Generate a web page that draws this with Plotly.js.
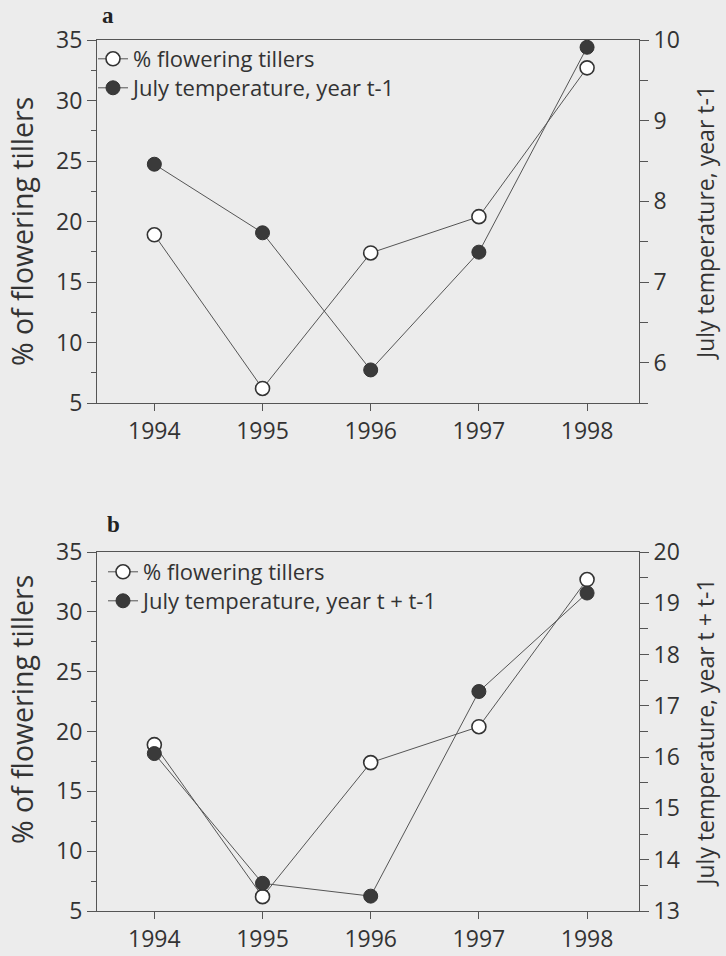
<!DOCTYPE html>
<html>
<head>
<meta charset="utf-8">
<script src="https://cdn.plot.ly/plotly-3.0.1.min.js"></script>
<style>
  html, body { margin: 0; padding: 0; background: #ececec; }
  #chart { width: 726px; height: 956px; }
</style>
</head>
<body>
<div id="chart"></div>
<script>
// ---- data ----
const years = [1994, 1995, 1996, 1997, 1998];
const floweringPct = [18.9, 6.2, 17.4, 20.4, 32.7];
const julyTempPrev = [8.46, 7.61, 5.91, 7.37, 9.91];        // year t-1
const julyTempSum = [16.07, 13.54, 13.29, 17.28, 19.2];      // year t + t-1
const yearTicks = [1994, 1995, 1996, 1997, 1998];
const legendNames = ['% flowering tillers', 'July temperature, year t-1', 'July temperature, year t + t-1'];
const leftTitle = '% of flowering tillers';
const rightTitles = ['July temperature, year t-1', 'July temperature, year t + t-1'];

const W = 726, H = 956;
const ink = '#333333';
const lineCol = '#555555';
const FONT = '"Open Sans", "Noto Sans", sans-serif';

const px = v => v / W;
const py = v => 1 - v / H;

const openMarker = { symbol: 'circle', size: 14, color: '#ffffff', line: { color: '#333333', width: 1.6 } };
const fillMarker = { symbol: 'circle', size: 14, color: '#3a3a3a', line: { color: '#333333', width: 1 } };
const lineStyle = { color: lineCol, width: 1 };

const traces = [
  { x: years, y: floweringPct, xaxis: 'x', yaxis: 'y', name: legendNames[0], mode: 'lines+markers',
    marker: openMarker, line: lineStyle, legend: 'legend', cliponaxis: false },
  { x: years, y: julyTempPrev, xaxis: 'x', yaxis: 'y2', name: legendNames[1], mode: 'lines+markers',
    marker: fillMarker, line: lineStyle, legend: 'legend2', cliponaxis: false },
  { x: years, y: floweringPct, xaxis: 'x2', yaxis: 'y3', name: legendNames[0], mode: 'lines+markers',
    marker: openMarker, line: lineStyle, legend: 'legend3', cliponaxis: false },
  { x: years, y: julyTempSum, xaxis: 'x2', yaxis: 'y4', name: legendNames[2], mode: 'lines+markers',
    marker: fillMarker, line: lineStyle, legend: 'legend4', cliponaxis: false }
];

const tickFont = { family: FONT, size: 23, color: ink };
const xDomain = [px(97), px(639)];
const aDomain = [py(403), py(40)];
const bDomain = [py(911), py(552)];

function xAxis(anchor, domain) {
  return {
    domain: xDomain, anchor: anchor, range: [1993.47, 1998.48],
    tickmode: 'array', tickvals: yearTicks, ticktext: yearTicks.map(String),
    ticks: 'outside', ticklen: 7, tickwidth: 1, tickcolor: lineCol,
    showline: true, linecolor: lineCol, linewidth: 1, mirror: true,
    showgrid: false, zeroline: false, tickfont: tickFont, automargin: false
  };
}
function leftY(anchor, domain) {
  return {
    domain: domain, anchor: anchor, range: [5, 35], dtick: 5, tick0: 0,
    ticks: 'outside', ticklen: 9, tickwidth: 1, tickcolor: lineCol,
    minor: { dtick: 2.5, ticks: 'outside', ticklen: 5, tickcolor: lineCol, showgrid: false },
    showline: true, linecolor: lineCol, linewidth: 1,
    showgrid: false, zeroline: false, tickfont: tickFont, automargin: false
  };
}
function rightY(anchor, overlay, domain, range, title) {
  return {
    domain: domain, anchor: anchor, overlaying: overlay, side: 'right', range: range, dtick: 1, tick0: 0,
    ticks: 'outside', ticklen: 9, tickwidth: 1, tickcolor: lineCol,
    minor: { dtick: 0.5, ticks: 'outside', ticklen: 8, tickcolor: lineCol, showgrid: false },
    showline: true, linecolor: lineCol, linewidth: 1,
    showgrid: false, zeroline: false, tickfont: tickFont, automargin: false,
    title: { text: title, font: { family: FONT, size: 23, color: ink }, standoff: 18 }
  };
}

const legendBase = {
  bgcolor: 'rgba(0,0,0,0)', borderwidth: 0, xanchor: 'left', yanchor: 'middle',
  font: { family: FONT, size: 22, color: ink }, itemwidth: 30, tracegroupgap: 0,
  xref: 'paper', yref: 'paper'
};

const layout = {
  width: W, height: H,
  margin: { l: 0, r: 0, t: 0, b: 0 },
  paper_bgcolor: '#ececec', plot_bgcolor: '#ececec',
  font: { family: FONT, color: ink },
  showlegend: true,
  xaxis: xAxis('y', aDomain),
  yaxis: leftY('x', aDomain),
  yaxis2: rightY('x', 'y', aDomain, [5.5, 10], rightTitles[0]),
  xaxis2: xAxis('y3', bDomain),
  yaxis3: leftY('x2', bDomain),
  yaxis4: rightY('x2', 'y3', bDomain, [13, 20], rightTitles[1]),
  legend: Object.assign({}, legendBase, { x: px(93), y: py(59) }),
  legend2: Object.assign({}, legendBase, { x: px(93), y: py(88) }),
  legend3: Object.assign({}, legendBase, { x: px(103), y: py(572) }),
  legend4: Object.assign({}, legendBase, { x: px(103), y: py(601) }),
  annotations: [
    { text: '<b>a</b>', x: px(100), y: py(1), xref: 'paper', yref: 'paper', xanchor: 'left', yanchor: 'top',
      showarrow: false, font: { family: '"Liberation Serif", serif', size: 23, color: '#222' } },
    { text: '<b>b</b>', x: px(105), y: py(510), xref: 'paper', yref: 'paper', xanchor: 'left', yanchor: 'top',
      showarrow: false, font: { family: '"Liberation Serif", serif', size: 23, color: '#222' } },
    { text: leftTitle, textangle: -90, x: px(22), y: py(232), xref: 'paper', yref: 'paper',
      xanchor: 'center', yanchor: 'middle', showarrow: false,
      font: { family: FONT, size: 28.5, color: ink } },
    { text: leftTitle, textangle: -90, x: px(22), y: py(710), xref: 'paper', yref: 'paper',
      xanchor: 'center', yanchor: 'middle', showarrow: false,
      font: { family: FONT, size: 28.5, color: ink } }
  ]
};

Plotly.newPlot('chart', traces, layout, { displayModeBar: false, staticPlot: true });
</script>
</body>
</html>
